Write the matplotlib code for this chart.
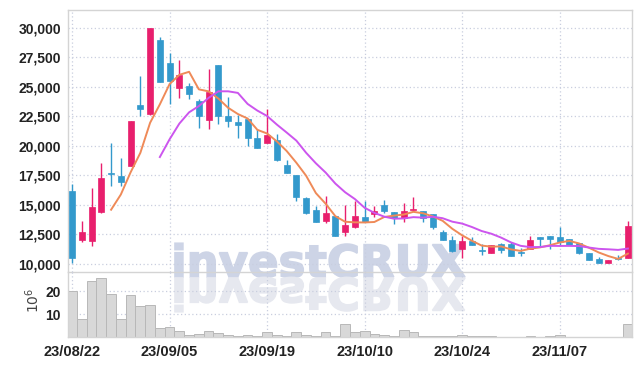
import matplotlib
matplotlib.use("Agg")
import matplotlib.pyplot as plt
import matplotlib.font_manager as fm
from matplotlib.textpath import TextPath
from matplotlib.patches import PathPatch
from matplotlib.transforms import Affine2D
from matplotlib.ticker import FuncFormatter
import numpy as np
import pandas as pd

# daily OHLC (KRW), one row per trading day
opens = [16150, 12050, 11950, 14400, 17750, 17450, 18300, 23500, 22750, 29000,
         27050, 24950, 25100, 23850, 22200, 26900, 22550, 22050, 22250, 20650,
         20250, 20550, 18350, 17550, 15600, 14550, 13650, 14050, 12700, 13150,
         14000, 14200, 15000, 14400, 13900, 14550, 14500, 14200, 12700, 12050,
         11250, 11950, 11150, 10950, 11700, 11700, 11000, 11250, 12250, 12350,
         12250, 12150, 11750, 10950, 10400, 10100, 10550, 10500]
highs = [16800, 13650, 16450, 18600, 20250, 19000, 22150, 25950, 30000, 29250,
         27900, 27300, 25350, 23950, 26500, 26900, 24150, 22600, 22250, 21400,
         23100, 21050, 18800, 17550, 15700, 14950, 15750, 14050, 15000, 15350,
         15350, 14950, 15400, 14400, 15200, 15650, 14500, 14200, 12900, 12350,
         12350, 12250, 11700, 11600, 11750, 11850, 11350, 12350, 12250, 12350,
         13150, 12150, 11750, 10950, 10600, 10300, 10800, 13650]
lows = [10100, 11850, 11500, 14350, 16650, 16600, 18300, 22550, 22600, 25400,
        23600, 24050, 23950, 21550, 21450, 21850, 21600, 20700, 20000, 19800,
        20250, 18750, 17700, 15350, 14250, 13600, 13500, 12400, 12350, 13075,
        13550, 14000, 14350, 13350, 13550, 14550, 13550, 13000, 12050, 11050,
        10550, 11600, 10800, 10950, 10950, 10650, 10650, 11250, 11550, 11250,
        11600, 11600, 10850, 10300, 10100, 10100, 10350, 10500]
closes = [10500, 12750, 14850, 17250, 17650, 16950, 22150, 23100, 30000, 25450,
          25550, 26050, 24400, 22550, 24600, 22500, 22150, 21750, 20650, 19800,
          20950, 18800, 17700, 15650, 14300, 13600, 14300, 12400, 13300, 14050,
          13550, 14500, 14500, 13900, 14500, 14700, 13900, 13150, 12050, 11100,
          11950, 11600, 11100, 11600, 11200, 10700, 10950, 12050, 12150, 12100,
          11850, 11650, 10950, 10350, 10100, 10300, 10450, 13200]
# volume in millions of shares
volume = [20.0, 7.8, 24.3, 25.5, 18.7, 7.8, 18.3, 13.5, 13.9, 3.9,
          4.3, 2.6, 0.9, 1.3, 2.6, 1.6, 0.8, 0.4, 0.8, 0.6,
          2.0, 0.9, 0.6, 2.0, 0.9, 0.6, 2.0, 0.5, 5.5, 2.0,
          2.6, 1.3, 0.8, 0.4, 2.9, 2.0, 0.3, 0.3, 0.3, 0.3,
          0.7, 0.3, 0.3, 0.3, 0.2, 0.2, 0.2, 0.4, 0.2, 0.5,
          0.8, 0.2, 0.2, 0.2, 0.2, 0.2, 0.2, 5.6]
tick_pos = [0, 10, 20, 30, 40, 50]
tick_labels = ["23/08/22", "23/09/05", "23/09/19", "23/10/10", "23/10/24", "23/11/07"]
price_ticks = [10000, 12500, 15000, 17500, 20000, 22500, 25000, 27500, 30000]

UP = "#e81f6d"; DOWN = "#3399cc"; MA5C = "#ef8a58"; MA10C = "#cc55ee"
GRID = "#c9cedf"; FRAME = "#d4d4d4"; VOLC = "#d8d8d8"; VOLE = "#b8b8b8"

FP = fm.FontProperties(family=["Liberation Sans", "DejaVu Sans"], weight="bold")
YSIZE, XSIZE = 10, 10.5

fig = plt.figure(figsize=(6.42, 3.66), dpi=100)
fig.patch.set_facecolor("white")
ax = fig.add_axes([68 / 642, 94 / 366, 564 / 642, 262 / 366])
axv = fig.add_axes([68 / 642, 29 / 366, 564 / 642, 65 / 366], sharex=ax)
for a in (ax, axv):
    a.set_facecolor("none")
    for s in a.spines.values():
        s.set_color(FRAME); s.set_linewidth(1.0)
    a.grid(True, color=GRID, ls=(0, (1, 2)), lw=0.9)
    a.set_axisbelow(True)
    a.tick_params(length=0)
axv.spines["top"].set_visible(False)

o = np.array(opens); c = np.array(closes); h = np.array(highs); l = np.array(lows)
x = np.arange(len(c))
col = np.where(c >= o, UP, DOWN)

# watermark + reflection (pixel coords)
wfp = fm.FontProperties(family="DejaVu Sans", weight="bold")
tp = TextPath((0, 0), "investCRUX", size=60, prop=wfp)
ext = tp.get_extents()
sx = 290 / ext.width
wm = PathPatch(tp, transform=Affine2D().translate(-ext.x0, 0).scale(sx, 0.74)
               .translate(175, 366 - 277), fc="#cdd4e6", ec="#cdd4e6", lw=1.2,
               zorder=0.5, clip_on=False)
rf = PathPatch(tp, transform=Affine2D().translate(-ext.x0, 0).scale(sx, -0.74)
               .translate(175, 366 - 278), fc="#e6e8ef", ec="#e6e8ef", lw=1.2,
               zorder=0.5, clip_on=False)
ax.add_patch(wm); ax.add_patch(rf)

ax.vlines(x, l, h, color=col, lw=1.0, zorder=2)
body = np.maximum(np.abs(c - o), 60)
ax.bar(x, body, bottom=np.minimum(o, c), width=0.62, color=col, edgecolor=col, lw=0.5, zorder=3)

ma5 = pd.Series(closes).rolling(5).mean()
ma10 = pd.Series(closes).rolling(10).mean()
ax.plot(x, ma5, color=MA5C, lw=1.4, zorder=4)
ax.plot(x, ma10, color=MA10C, lw=1.4, zorder=4)

ax.set_ylim(9322, 31525)
ax.set_yticks(price_ticks)
ax.yaxis.set_major_formatter(FuncFormatter(lambda v, p: f"{v:,.0f}"))
ax.set_xlim(-0.42, len(c) - 0.58)
ax.set_xticks(tick_pos)
plt.setp(ax.get_xticklabels(), visible=False)
for t in ax.get_yticklabels():
    t.set_fontproperties(FP); t.set_fontsize(YSIZE); t.set_color("#222222")
ax.tick_params(axis="y", pad=5)

axv.bar(x, volume, width=1.0, color=VOLC, edgecolor=VOLE, lw=0.7, zorder=2)
axv.set_ylim(0, 28.3)
axv.set_yticks([10, 20])
axv.set_xticklabels(tick_labels)
for t in axv.get_yticklabels():
    t.set_fontproperties(FP); t.set_fontsize(YSIZE); t.set_color("#222222")
for t in axv.get_xticklabels():
    t.set_fontproperties(FP); t.set_fontsize(XSIZE); t.set_color("#222222")
axv.tick_params(axis="y", pad=5)
axv.tick_params(axis="x", pad=6)
fig.text(33 / 642, 1 - 300 / 366, "$10^6$", rotation=90, ha="center", va="center",
         fontsize=10, color="#444444", family="DejaVu Serif")

fig.savefig("out.png", dpi=100)
